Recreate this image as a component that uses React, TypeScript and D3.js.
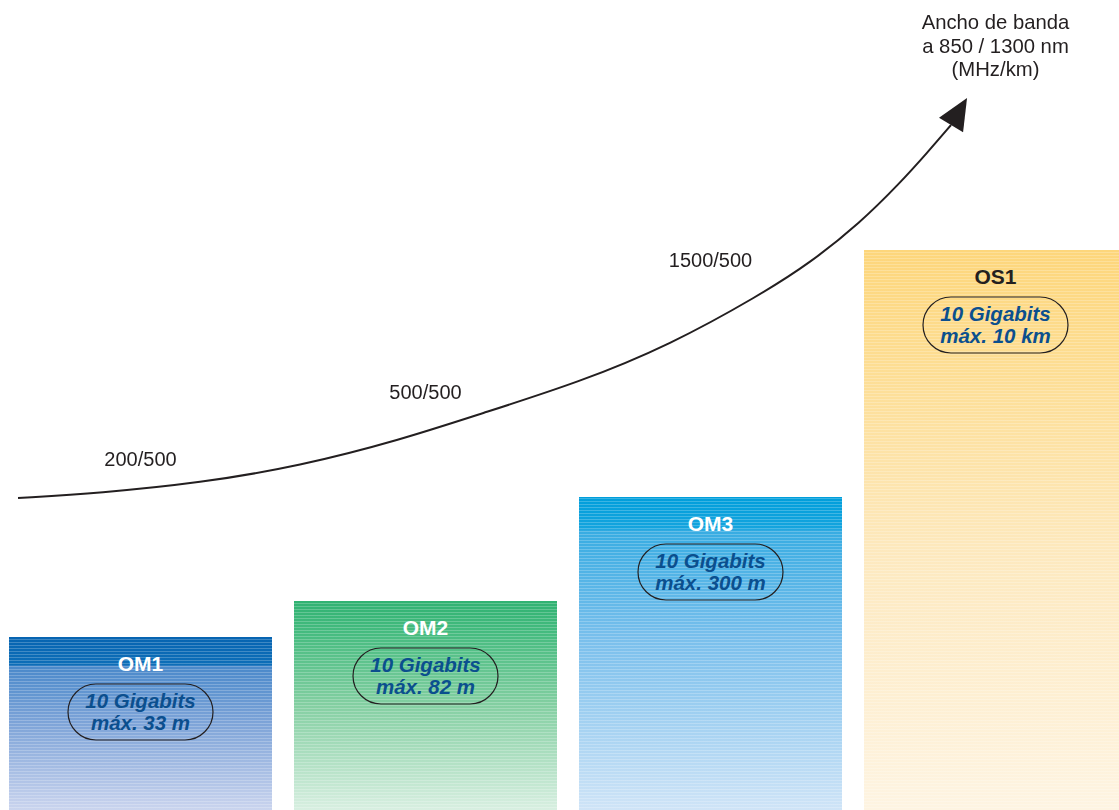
import * as d3 from 'd3'

// fibre categories and their bar levels (pixels of height)
const fibers = ['OM1', 'OM2', 'OM3', 'OS1']
const barLevels = [173, 209, 313, 560]
const capacity = ['10 Gigabits', '10 Gigabits', '10 Gigabits', '10 Gigabits']
const reach = ['máx. 33 m', 'máx. 82 m', 'máx. 300 m', 'máx. 10 km']
const nameColors = ['#ffffff', '#ffffff', '#ffffff', '#231f20']

// bandwidth labels above the trend curve (850/1300 nm)
const bandwidthLabels = ['200/500', '500/500', '1500/500']
const bandwidthLabelLevels = [344, 411, 543]

// gradient stops per bar: [offset, colour]
const barGradients: [number, string][][] = [
  [[0, '#0764b1'], [0.16, '#0d6eb8'], [0.17, '#4a89ca'], [0.5, '#7ea4d8'], [1, '#cad4ee']],
  [[0, '#30b272'], [0.15, '#45bb7f'], [0.5, '#84cfa2'], [1, '#d8efe1']],
  [[0, '#009edb'], [0.1, '#14a4de'], [0.11, '#38ace2'], [0.45, '#79bfec'], [1, '#cfe4f7']],
  [[0, '#fdd67b'], [0.2, '#fddd92'], [0.55, '#fde9bf'], [1, '#fef4e2']]
]

// trend arrow, in the same level units as the bars (x in percent of width)
const trendX = [1.61, 8.94, 17.87, 26.81, 35.75, 42.9, 51.83, 59.87, 67.92, 72.39, 76.85, 80.43, 82.84, 84.99]
const trendY = [312, 317, 327, 344, 370, 396, 428, 465, 515, 547, 587, 627, 657, 685]
// arrow head tip
const tipX = 86.42
const tipY = 712

const W = 1119
const H = 810
const FONT = '"Liberation Sans", Arial, Helvetica, sans-serif'

export default function App() {
  const x = d3
    .scaleBand<string>()
    .domain(fibers)
    .range([9, 1127])
    .paddingInner(0.0772)
    .paddingOuter(0)
  const y = d3.scaleLinear().domain([0, 560]).range([H, 250])
  const px = d3.scaleLinear().domain([0, 100]).range([0, W])

  const trend = d3
    .line<number>()
    .x((_, i) => px(trendX[i]))
    .y(d => y(d))
    .curve(d3.curveBasis)(trendY)

  // arrow head oriented from curve end to tip
  const bx = px(trendX[trendX.length - 1])
  const by = y(trendY[trendY.length - 1])
  const tx = px(tipX)
  const ty = y(tipY)
  const angle = (Math.atan2(ty - by, tx - bx) * 180) / Math.PI
  const len = Math.hypot(tx - bx, ty - by)

  const bw = x.bandwidth()
  const titleX = (x('OS1') ?? 0) + bw / 2

  return (
    <svg
      width={W}
      height={H}
      style={{ position: 'fixed', top: 0, left: 0, display: 'block' }}
      fontFamily={FONT}
    >
      <defs>
        {barGradients.map((stops, i) => (
          <linearGradient key={i} id={`grad-${i}`} x1="0" y1="0" x2="0" y2="1">
            {stops.map(([o, c], j) => (
              <stop key={j} offset={o} stopColor={c} />
            ))}
          </linearGradient>
        ))}
        <pattern id="stripes" width="8" height="3" patternUnits="userSpaceOnUse">
          <rect x="0" y="0" width="8" height="1" fill="#ffffff" opacity="0.22" />
        </pattern>
      </defs>

      {/* bars */}
      {fibers.map((f, i) => {
        const x0 = x(f) ?? 0
        const top = y(barLevels[i])
        const cx = x0 + bw / 2
        return (
          <g key={f}>
            <rect x={x0} y={top} width={bw} height={H - top} fill={`url(#grad-${i})`} />
            <rect x={x0} y={top} width={bw} height={H - top} fill="url(#stripes)" />
            <text
              x={cx}
              y={top + 34}
              textAnchor="middle"
              fontSize={21}
              fontWeight="bold"
              fill={nameColors[i]}
            >
              {f}
            </text>
            <rect
              x={cx - 72.5}
              y={top + 47}
              width={145}
              height={56}
              rx={28}
              ry={28}
              fill="none"
              stroke="#231f20"
              strokeWidth={1.2}
            />
            <text
              x={cx}
              y={top + 71}
              textAnchor="middle"
              fontSize={20.5}
              fontWeight="bold"
              fontStyle="italic"
              fill="#0b4f8e"
            >
              {capacity[i]}
            </text>
            <text
              x={cx}
              y={top + 93}
              textAnchor="middle"
              fontSize={20.5}
              fontWeight="bold"
              fontStyle="italic"
              fill="#0b4f8e"
            >
              {reach[i]}
            </text>
          </g>
        )
      })}

      {/* trend arrow */}
      <path d={trend ?? ''} fill="none" stroke="#231f20" strokeWidth={2} />
      <path
        d={`M0,-14L${len},0L0,14Z`}
        transform={`translate(${bx},${by}) rotate(${angle})`}
        fill="#231f20"
      />

      {bandwidthLabels.map((l, i) => (
        <text
          key={l}
          x={(x(fibers[i]) ?? 0) + bw / 2}
          y={y(bandwidthLabelLevels[i])}
          textAnchor="middle"
          fontSize={20}
          fill="#231f20"
        >
          {l}
        </text>
      ))}

      {/* axis title */}
      <text textAnchor="middle" fontSize={20.3} fill="#231f20">
        <tspan x={titleX} y={29}>Ancho de banda</tspan>
        <tspan x={titleX} y={53}>a 850 / 1300 nm</tspan>
        <tspan x={titleX} y={76}>(MHz/km)</tspan>
      </text>
    </svg>
  )
}
